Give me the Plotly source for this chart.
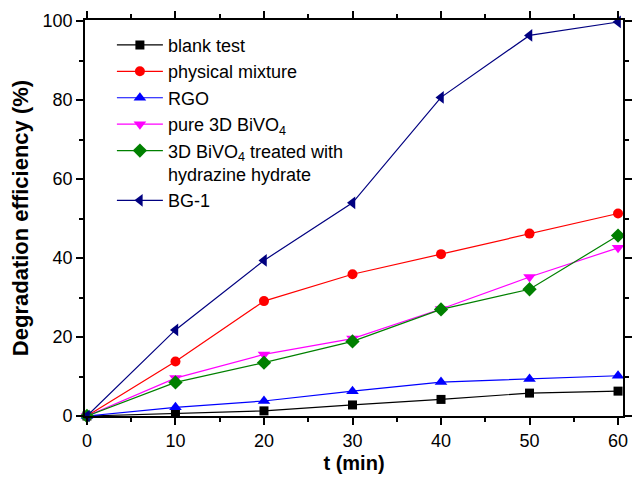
import plotly.graph_objects as go

t = [0, 10, 20, 30, 40, 50, 60]
blank_test = [0, 0.7, 1.3, 2.8, 4.2, 5.8, 6.3]
physical_mixture = [0, 13.8, 29.1, 35.9, 41.0, 46.2, 51.3]
rgo = [0, 2.2, 3.8, 6.3, 8.6, 9.4, 10.2]
pure_bivo4 = [0, 9.6, 15.6, 19.6, 27.1, 35.2, 42.6]
treated_bivo4 = [0, 8.5, 13.5, 18.9, 27.0, 32.1, 45.7]
bg1 = [0, 21.8, 39.4, 54.0, 80.7, 96.4, 99.8]

names = ["blank test", "physical mixture", "RGO", "pure 3D BiVO<sub>4</sub>",
         "3D BiVO<sub>4</sub> treated with<br>hydrazine hydrate", "BG-1"]
series = [blank_test, physical_mixture, rgo, pure_bivo4, treated_bivo4, bg1]
colors = ["#000000", "#FF0000", "#0000FF", "#FF00FF", "#008000", "#000080"]
symbols = ["square", "circle", "triangle-up", "triangle-down", "diamond", "triangle-left"]
sizes = [9, 10, 11, 11, 11, 11]

FONT = "Liberation Sans, Arial, sans-serif"

fig = go.Figure()
for n, s, c, sym, sz in zip(names, series, colors, symbols, sizes):
    fig.add_trace(go.Scatter(
        x=t, y=s, name=n, mode="lines+markers",
        line=dict(color=c, width=1.2),
        marker=dict(symbol=sym, size=sz, color=c, line=dict(width=0)),
        cliponaxis=False,
    ))

axis_common = dict(
    showline=True, linecolor="black", linewidth=1.8, mirror="ticks",
    ticks="outside", ticklen=7, tickwidth=1.5, tickcolor="black",
    showgrid=False, zeroline=False,
    tickfont=dict(family=FONT, size=18, color="black"),
)

fig.update_xaxes(
    range=[-0.22, 60.56], tickvals=[0, 10, 20, 30, 40, 50, 60],
    minor=dict(dtick=5, tick0=0, ticks="outside", ticklen=4, tickwidth=1.5, tickcolor="black"),
    title=dict(text="<b>t (min)</b>", font=dict(family=FONT, size=20, color="black"), standoff=6),
    **axis_common,
)
fig.update_yaxes(
    range=[0, 100.3], tickvals=[0, 20, 40, 60, 80, 100],
    minor=dict(dtick=10, tick0=0, ticks="outside", ticklen=4, tickwidth=1.5, tickcolor="black"),
    title=dict(text="<b>Degradation efficiency (%)</b>", font=dict(family=FONT, size=22, color="black"), standoff=8),
    **axis_common,
)

fig.update_layout(
    width=638, height=477,
    margin=dict(l=85, r=6, t=20, b=56),
    paper_bgcolor="white", plot_bgcolor="white",
    showlegend=True,
    legend=dict(
        x=0.05, y=0.983, xanchor="left", yanchor="top",
        bgcolor="rgba(0,0,0,0)", borderwidth=0,
        font=dict(family=FONT, size=18, color="black"),
        valign="top", itemwidth=46, tracegroupgap=0,
    ),
)

fig.write_html("out.html")
